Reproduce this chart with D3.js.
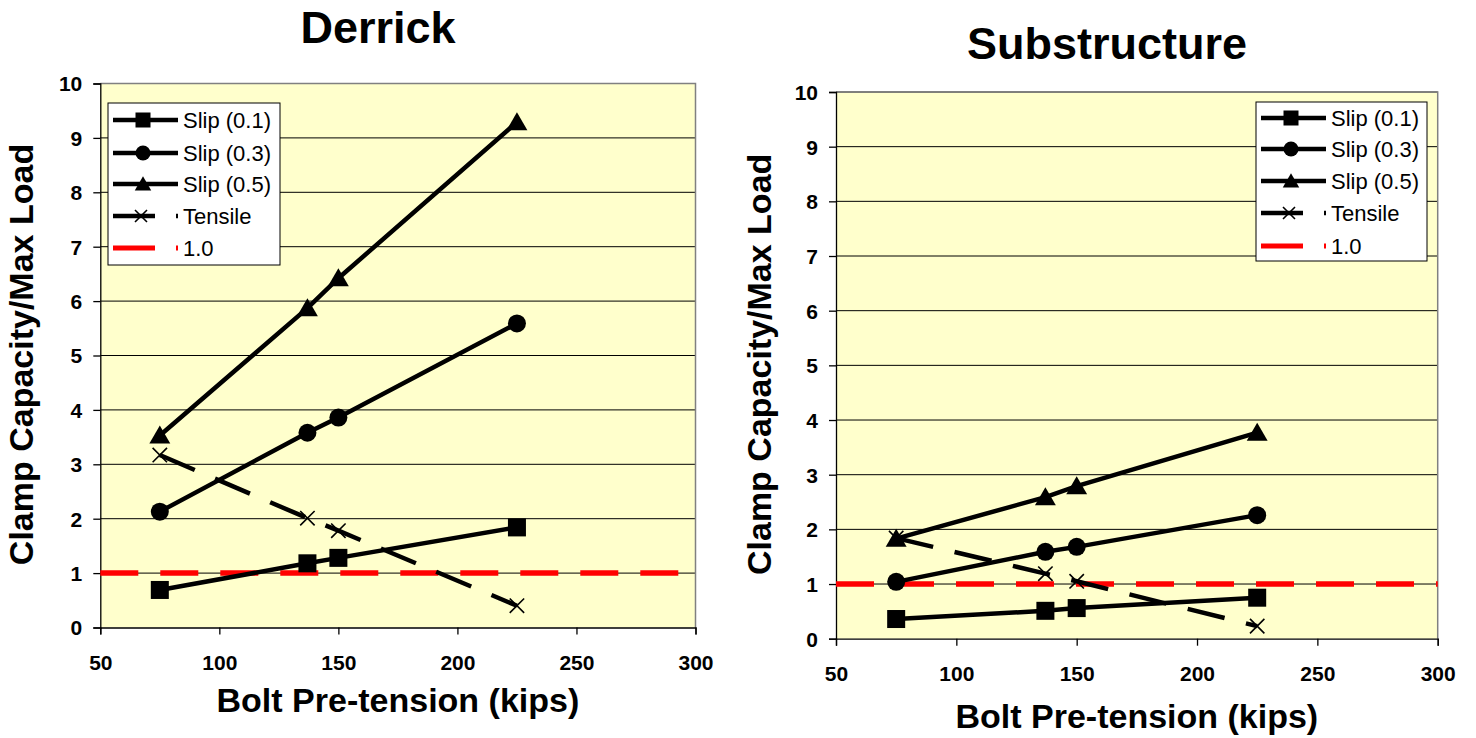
<!DOCTYPE html>
<html><head><meta charset="utf-8">
<script src="https://cdn.jsdelivr.net/npm/d3@7"></script>
<style>body{margin:0;background:#fff}</style>
</head><body><svg id="chart" width="1476" height="738"></svg>
<script>
// ---- Data ----
const boltPretension = [75, 137, 150, 225];
const seriesNames = ["Slip (0.1)", "Slip (0.3)", "Slip (0.5)", "Tensile", "1.0"];

const derrickSlip01 = [0.69, 1.18, 1.28, 1.84];
const derrickSlip03 = [2.13, 3.58, 3.86, 5.59];
const derrickSlip05 = [3.53, 5.87, 6.42, 9.29];
const derrickTensile = [3.17, 2.01, 1.78, 0.40];

const subSlip01 = [0.36, 0.51, 0.56, 0.75];
const subSlip03 = [1.04, 1.59, 1.68, 2.26];
const subSlip05 = [1.83, 2.59, 2.79, 3.77];
const subTensile = [1.84, 1.19, 1.05, 0.23];

const referenceLevel = 1.0;
const xTicks = [50, 100, 150, 200, 250, 300];
const yTicks = [0, 1, 2, 3, 4, 5, 6, 7, 8, 9, 10];
const xDomain = [50, 300];
const yDomain = [0, 10];
const titles = ["Derrick", "Substructure"];
const xAxisTitle = "Bolt Pre-tension (kips)";
const yAxisTitle = "Clamp Capacity/Max Load";

// ---- Layout ----
const FONT = "Arial, 'Liberation Sans', sans-serif";
const svg = d3.select("#chart");

const panels = [
  { title: titles[0], titleX: 378, titleY: 43,
    left: 100.3, right: 695.5, top: 83.5, bottom: 627.5,
    yTitleX: 33, xTitleY: 712,
    legend: { x: 108, y: 103, w: 172, h: 162, rows: [120, 153, 184, 216, 248] },
    data: [derrickSlip01, derrickSlip03, derrickSlip05, derrickTensile] },
  { title: titles[1], titleX: 1107, titleY: 59,
    left: 836, right: 1437.7, top: 92, bottom: 638.7,
    yTitleX: 771, xTitleY: 728,
    legend: { x: 1256, y: 102, w: 171, h: 159, rows: [118, 149, 181, 213, 246] },
    data: [subSlip01, subSlip03, subSlip05, subTensile] }
];

const markerTypes = ["square", "circle", "triangle", "x"];

function drawMarker(g, type, cx, cy, s) {
  if (type === "square") {
    g.append("rect").attr("x", cx - s/2).attr("y", cy - s/2).attr("width", s).attr("height", s).attr("fill", "#000");
  } else if (type === "circle") {
    g.append("circle").attr("cx", cx).attr("cy", cy).attr("r", s/2).attr("fill", "#000");
  } else if (type === "triangle") {
    const h = s * 0.95, w = s * 1.1;
    g.append("path").attr("d", `M${cx},${cy - h*0.55}L${cx + w/2},${cy + h*0.45}L${cx - w/2},${cy + h*0.45}Z`).attr("fill", "#000");
  } else if (type === "x") {
    const r = s * 0.4;
    g.append("path").attr("d", `M${cx-r},${cy-r}L${cx+r},${cy+r}M${cx-r},${cy+r}L${cx+r},${cy-r}`)
      .attr("stroke", "#000").attr("stroke-width", 1.6).attr("fill", "none");
  }
}

panels.forEach(p => {
  const x = d3.scaleLinear().domain(xDomain).range([p.left, p.right]);
  const y = d3.scaleLinear().domain(yDomain).range([p.bottom, p.top]);
  const g = svg.append("g");

  // plot background
  g.append("rect").attr("x", p.left).attr("y", p.top)
    .attr("width", p.right - p.left).attr("height", p.bottom - p.top)
    .attr("fill", "#FFFFCC");

  // gridlines
  g.append("g").selectAll("line").data(yTicks.filter(d => d > 0)).join("line")
    .attr("x1", p.left).attr("x2", p.right)
    .attr("y1", d => y(d)).attr("y2", d => y(d))
    .attr("stroke", "#000").attr("stroke-width", 1);

  // border (top/right gray)
  g.append("path").attr("d", `M${p.left},${p.top}H${p.right}V${p.bottom}`)
    .attr("stroke", "#808080").attr("stroke-width", 1.5).attr("fill", "none");

  // axes
  const xAxis = d3.axisBottom(x).tickValues(xTicks).tickSize(7).tickFormat(d3.format("d"));
  const gx = g.append("g").attr("transform", `translate(0,${p.bottom})`).call(xAxis);
  gx.select(".domain").attr("stroke", "#000").attr("stroke-width", 1.3);
  gx.selectAll(".tick line").attr("stroke", "#000").attr("stroke-width", 1.3);
  gx.selectAll(".tick text").attr("font-family", FONT).attr("font-size", 21).attr("font-weight", "bold")
    .attr("fill", "#000").attr("y", 0).attr("dy", 42);

  const yAxis = d3.axisLeft(y).tickValues(yTicks).tickSize(7).tickFormat(d3.format("d"));
  const gy = g.append("g").attr("transform", `translate(${p.left},0)`).call(yAxis);
  gy.select(".domain").attr("stroke", "#000").attr("stroke-width", 1.3);
  gy.selectAll(".tick line").attr("stroke", "#000").attr("stroke-width", 1.3);
  gy.selectAll(".tick text").attr("font-family", FONT).attr("font-size", 21).attr("font-weight", "bold")
    .attr("fill", "#000").attr("x", -18).attr("dy", "0.35em");

  // reference line
  g.append("line").attr("x1", x(xDomain[0])).attr("x2", x(xDomain[1]))
    .attr("y1", y(referenceLevel)).attr("y2", y(referenceLevel))
    .attr("stroke", "#FF0000").attr("stroke-width", 5.5).attr("stroke-dasharray", "38,22");

  // series
  const line = d3.line().x(d => x(d[0])).y(d => y(d[1]));
  p.data.forEach((vals, i) => {
    const pts = boltPretension.map((b, j) => [b, vals[j]]);
    g.append("path").attr("d", line(pts)).attr("fill", "none").attr("stroke", "#000")
      .attr("stroke-width", 4.5)
      .attr("stroke-dasharray", markerTypes[i] === "x" ? "38,22" : null);
    pts.forEach(pt => drawMarker(g, markerTypes[i], x(pt[0]), y(pt[1]), markerTypes[i] === "triangle" ? 19 : 18));
  });

  // title
  g.append("text").attr("x", p.titleX).attr("y", p.titleY).attr("text-anchor", "middle")
    .attr("font-family", FONT).attr("font-size", 45).attr("font-weight", "bold").text(p.title);

  // axis titles
  g.append("text").attr("x", (p.left + p.right) / 2).attr("y", p.xTitleY).attr("text-anchor", "middle")
    .attr("font-family", FONT).attr("font-size", 34).attr("font-weight", "bold").text(xAxisTitle);
  g.append("text").attr("transform", `translate(${p.yTitleX},${(p.top + p.bottom) / 2 - 1}) rotate(-90)`)
    .attr("text-anchor", "middle")
    .attr("font-family", FONT).attr("font-size", 34).attr("font-weight", "bold").text(yAxisTitle);

  // legend
  const L = p.legend;
  const lg = g.append("g");
  lg.append("rect").attr("x", L.x).attr("y", L.y).attr("width", L.w).attr("height", L.h)
    .attr("fill", "#fff").attr("stroke", "#000").attr("stroke-width", 1);
  seriesNames.forEach((name, i) => {
    const cy = L.rows[i];
    const x1 = L.x + 5, x2 = L.x + 70, cx = L.x + 35;
    if (i < 3) {
      lg.append("line").attr("x1", x1).attr("x2", x2).attr("y1", cy).attr("y2", cy)
        .attr("stroke", "#000").attr("stroke-width", 4.5);
      drawMarker(lg, markerTypes[i], cx, cy, 15);
    } else if (i === 3) {
      lg.append("line").attr("x1", x1).attr("x2", x2).attr("y1", cy).attr("y2", cy)
        .attr("stroke", "#000").attr("stroke-width", 4.5).attr("stroke-dasharray", "42,21");
      drawMarker(lg, "x", cx - 2, cy, 15);
    } else {
      lg.append("line").attr("x1", x1).attr("x2", x2).attr("y1", cy).attr("y2", cy)
        .attr("stroke", "#FF0000").attr("stroke-width", 5).attr("stroke-dasharray", "42,21");
    }
    lg.append("text").attr("x", L.x + 75).attr("y", cy).attr("dy", "0.36em")
      .attr("font-family", FONT).attr("font-size", 22).attr("fill", "#000").text(name);
  });
});
</script>
</body></html>
